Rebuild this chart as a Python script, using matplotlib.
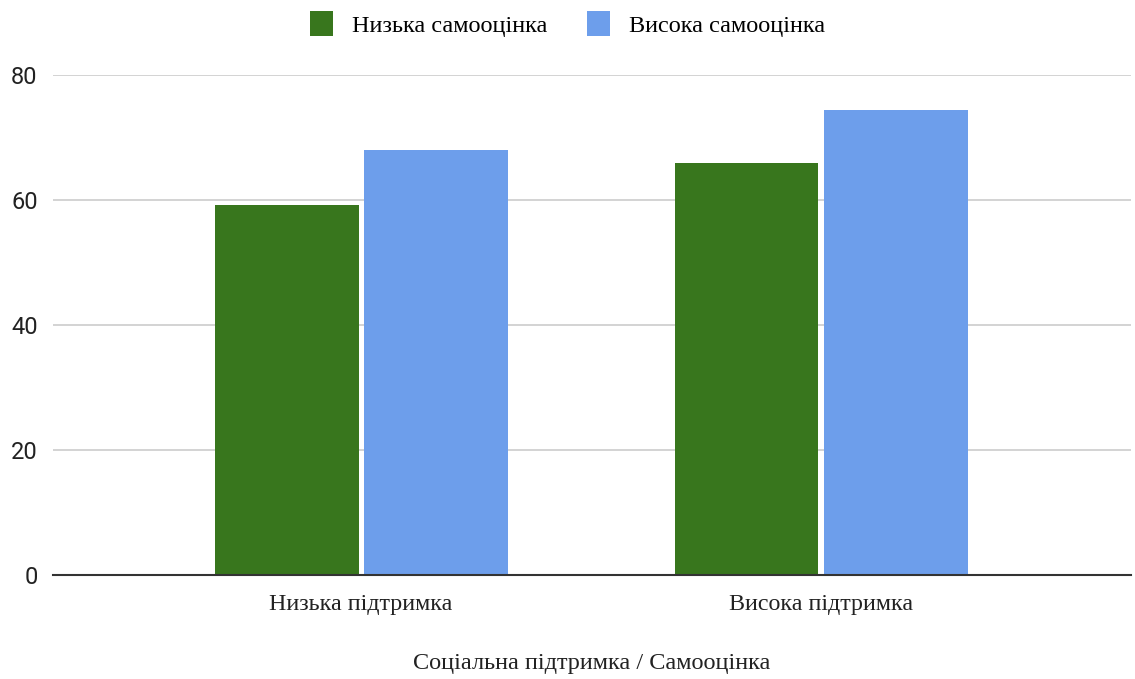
import matplotlib
matplotlib.use("Agg")
import matplotlib.pyplot as plt
import numpy as np

categories = ['Низька підтримка', 'Висока підтримка']
series_names = ['Низька самооцінка', 'Висока самооцінка']
low_esteem = [59.2, 66.0]
high_esteem = [68.0, 74.4]
y_ticks = [0, 20, 40, 60, 80]

green = '#38761d'
blue = '#6d9eeb'

fig = plt.figure(figsize=(11.35, 6.79), dpi=100)
ax = fig.add_axes([53/1135, 1 - 575/679, (1131 - 53)/1135, (575 - 75)/679])

ind = np.arange(len(categories))
width = 0.313
gap = 0.011

bar1 = ax.bar(ind - width/2 - gap/2, low_esteem, width, color=green, zorder=3)
bar2 = ax.bar(ind + width/2 + gap/2, high_esteem, width, color=blue, zorder=3)

ax.set_xlim(-0.67, 1.674)
ax.set_ylim(0, 80)
ax.set_yticks(y_ticks)
ax.set_yticklabels([str(v) for v in y_ticks], fontsize=17, family='Roboto', color='#222222')
ax.set_xticks(ind)
ax.set_xticklabels(categories, fontsize=17.3, family='Liberation Serif', color='#222222')
ax.tick_params(axis='both', length=0)
ax.tick_params(axis='y', pad=11)
ax.tick_params(axis='x', pad=14)

for s in ['top', 'right', 'left']:
    ax.spines[s].set_visible(False)
ax.spines['bottom'].set_color('#333333')
ax.spines['bottom'].set_linewidth(1.5)
ax.spines['bottom'].set_zorder(4)
ax.grid(axis='y', color='#cccccc', linewidth=1.2, zorder=0)

ax.set_xlabel('Соціальна підтримка / Самооцінка', fontsize=17.5,
              family='Liberation Serif', color='#222222', labelpad=27)

leg = fig.legend((bar1, bar2), series_names, loc='center', bbox_to_anchor=(0.5, 1 - 24/679),
                 ncol=2, frameon=False, handlelength=0.95, handleheight=1.2,
                 handletextpad=0.8, columnspacing=1.6,
                 prop={'family': 'Liberation Serif', 'size': 17.5})

fig.savefig('out.png', dpi=100)
